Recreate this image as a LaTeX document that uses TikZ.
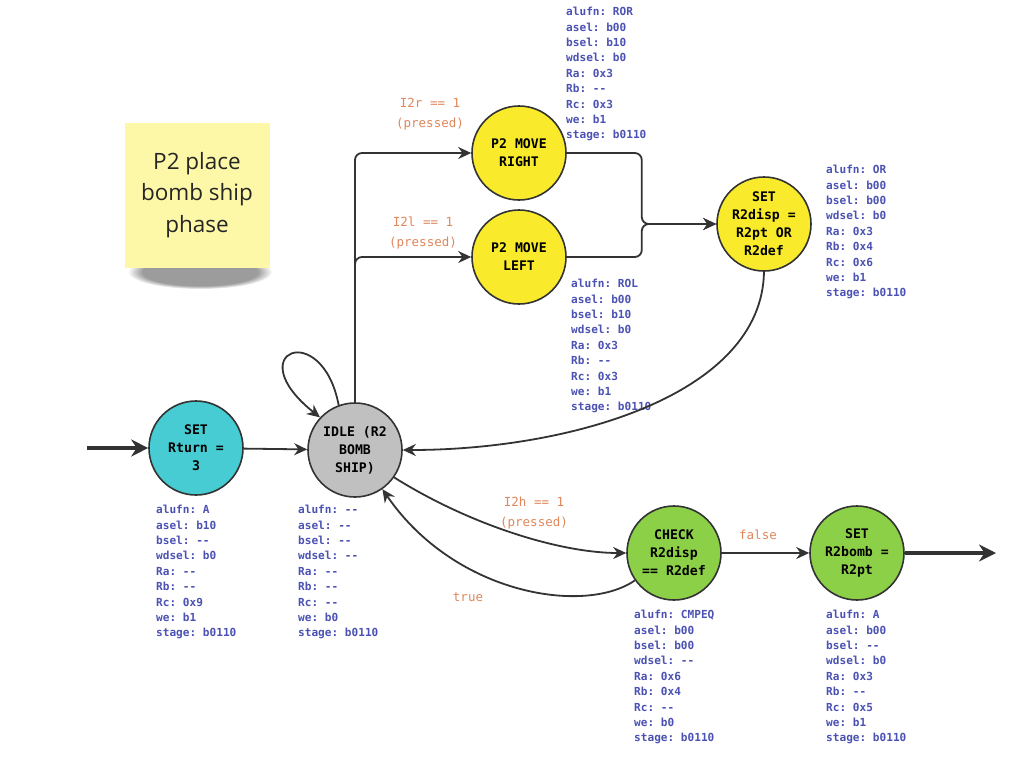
\documentclass[tikz,border=0pt]{standalone}
\usepackage{fontspec}
\setmainfont{Open Sans}
\setmonofont{DejaVu Sans Mono}
\usetikzlibrary{arrows.meta,fadings}
\definecolor{regblue}{HTML}{4B52B3}
\definecolor{condorange}{HTML}{E0875C}
\definecolor{linegray}{HTML}{333333}
\definecolor{tealfill}{HTML}{46CCD2}
\definecolor{grayfill}{HTML}{C0C0C0}
\definecolor{yellowfill}{HTML}{F9EB2C}
\definecolor{greenfill}{HTML}{8CD048}
\definecolor{notefill}{HTML}{FDF8A8}
% control signal block: alufn, asel, bsel, wdsel, Ra, Rb, Rc, we, stage
\newcommand{\ctrlsig}[9]{alufn: #1\\asel: #2\\bsel: #3\\wdsel: #4\\Ra: #5\\Rb: #6\\Rc: #7\\we: #8\\stage: #9}
\begin{document}
\begin{tikzpicture}[x=1pt,y=-1pt,
    state/.style={circle, draw=linegray, line width=1.6pt, minimum size=94pt, inner sep=0pt,
      align=center, font=\ttfamily\bfseries\fontsize{13.2}{18}\selectfont},
    ctrl/.style={anchor=north west, inner sep=0pt, align=left, text=regblue,
      font=\ttfamily\bfseries\fontsize{11.1}{15.4}\selectfont},
    cond/.style={align=center, text=condorange, inner sep=0pt,
      font=\ttfamily\fontsize{12.5}{20.5}\selectfont},
    edge/.style={draw=linegray, line width=1.8pt, -{Stealth[length=13pt,width=12pt]}},
    bigarrow/.style={draw=linegray, line width=4pt, -{Stealth[length=17pt,width=17pt]}}]
  \fill[white] (0,0) rectangle (1010,761);
  \useasboundingbox (0,0) rectangle (1010,761);

  % sticky note
  \fill[black!70, opacity=0.55, path fading=circle with fuzzy edge 20 percent]
    (200,272) ellipse [x radius=72pt, y radius=17pt];
  \node[fill=notefill, minimum width=145pt, minimum height=145pt, align=center,
    font=\fontsize{22.5}{31.5}\selectfont, text=black!85] (note) at (197,195)
    {P2 place\\bomb ship\\phase};

  % states
  \node[state, fill=tealfill] (rturn) at (196,448) {SET\\Rturn =\\3};
  \node[state, fill=grayfill] (idle) at (355,450) {IDLE (R2\\BOMB\\SHIP)};
  \node[state, fill=yellowfill] (mright) at (519,153) {P2 MOVE\\RIGHT};
  \node[state, fill=yellowfill] (mleft) at (519,257) {P2 MOVE\\LEFT};
  \node[state, fill=yellowfill] (setdisp) at (764,224) {SET\\R2disp =\\R2pt OR\\R2def};
  \node[state, fill=greenfill] (check) at (674,553) {CHECK\\R2disp\\== R2def};
  \node[state, fill=greenfill] (setbomb) at (857,553) {SET\\R2bomb =\\R2pt};

  \coordinate (start) at (87,448);
  \coordinate (finish) at (996,553);

  % control signals
  \node[ctrl] (sigright) at (566,7) {\ctrlsig{ROR}{b00}{b10}{b0}{0x3}{-{}-}{0x3}{b1}{b0110}};
  \node[ctrl] (sigdisp) at (826,165) {\ctrlsig{OR}{b00}{b00}{b0}{0x3}{0x4}{0x6}{b1}{b0110}};
  \node[ctrl] (sigleft) at (571,279) {\ctrlsig{ROL}{b00}{b10}{b0}{0x3}{-{}-}{0x3}{b1}{b0110}};
  \node[ctrl] (sigturn) at (156,505) {\ctrlsig{A}{b10}{-{}-}{b0}{-{}-}{-{}-}{0x9}{b1}{b0110}};
  \node[ctrl] (sigidle) at (298,505) {\ctrlsig{-{}-}{-{}-}{-{}-}{-{}-}{-{}-}{-{}-}{-{}-}{b0}{b0110}};
  \node[ctrl] (sigcheck) at (634,610) {\ctrlsig{CMPEQ}{b00}{b00}{-{}-}{0x6}{0x4}{-{}-}{b0}{b0110}};
  \node[ctrl] (sigbomb) at (826,610) {\ctrlsig{A}{b00}{-{}-}{b0}{0x3}{-{}-}{0x5}{b1}{b0110}};

  % transitions
  \draw[bigarrow] (start) -- (rturn);
  \draw[edge] (rturn) -- (idle);
  \draw[edge] (idle.110) .. controls (322,318) and (238,352) .. (idle.137);
  \draw[edge, rounded corners=7pt] (idle.north) |- (mright.west);
  \draw[edge, rounded corners=7pt] (idle.north) |- (mleft.west);
  \draw[edge, rounded corners=7pt] (mright.east) -- ++(75,0) |- (setdisp.west);
  \draw[edge, rounded corners=7pt] (mleft.east) -- ++(75,0) |- (setdisp.west);
  \draw[edge] (setdisp.south) .. controls (762,395) and (570,450) .. (idle.east);
  \draw[edge] (idle.-35) .. controls (470,525) and (560,553) .. (check.west);
  \draw[edge] (check.-145) .. controls (585,615) and (455,595) .. (idle.-55);
  \draw[edge] (check) -- (setbomb);
  \draw[bigarrow] (setbomb) -- (finish);

  % conditions
  \node[cond] (cright) at (430,114) {I2r == 1\\(pressed)};
  \node[cond] (cleft) at (423,233) {I2l == 1\\(pressed)};
  \node[cond] (chold) at (534,513) {I2h == 1\\(pressed)};
  \node[cond] (ctrue) at (468,597) {true};
  \node[cond] (cfalse) at (758,535) {false};
\end{tikzpicture}
\end{document}
